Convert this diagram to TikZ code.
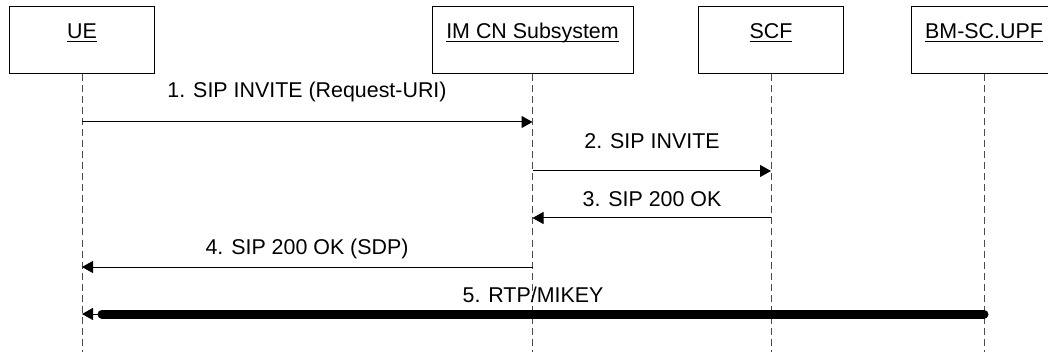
\documentclass[tikz,border=0pt]{standalone}
\usepackage{fontspec}
\setmainfont{Liberation Sans}
\usetikzlibrary{arrows.meta}
\newcommand\entity[1]{\underline{\smash{#1}}}
\begin{document}
\begin{tikzpicture}[x=0.5pt,y=-0.5pt,
    every node/.style={font=\fontsize{10.7}{13}\selectfont},
    party/.style={draw,line width=0.5pt,minimum width=72.5pt,minimum height=33.5pt,inner sep=0pt},
    lifeline/.style={draw=black!70,line width=0.5pt,dash pattern=on 3.5pt off 2pt},
    msg/.style={line width=0.5pt,-{Triangle[length=5.5pt,width=6pt]}},
    msgtext/.style={anchor=base,inner sep=0pt}]
        \useasboundingbox (0,0) rectangle (1048,352);
        \node[party] (ue) at (82,40.5) {\entity{UE}};
        \node[party,minimum width=100.5pt] (imcn) at (532.5,40.5) {\entity{IM CN Subsystem}};
        \node[party] (scf) at (771,40.5) {\entity{SCF}};
        \node[party] (bm) at (984,40.5) {\entity{BM-SC.UPF}};
        \foreach \p in {ue,imcn,scf,bm}
            \draw[lifeline] (\p.south) -- (\p.south |- 0,352);
        \draw[msg] (ue |- 0,122) -- (imcn |- 0,122);
        \node[msgtext] (m1) at (307,97.5) {1. SIP INVITE (Request-URI)};
        \draw[msg] (imcn |- 0,171) -- (scf |- 0,171);
        \node[msgtext] (m2) at (652,149) {2. SIP INVITE};
        \draw[msg] (scf |- 0,218) -- (imcn |- 0,218);
        \node[msgtext] (m3) at (652,206.5) {3. SIP 200 OK};
        \draw[msg] (imcn |- 0,267) -- (ue |- 0,267);
        \node[msgtext] (m4) at (307,255) {4. SIP 200 OK (SDP)};
        \coordinate (rtpend) at ([xshift=10pt]ue |- 0,314);
        \draw[line width=4.5pt,line cap=round] (bm |- 0,314) -- (rtpend);
        \draw[msg] (rtpend) -- (ue |- 0,314);
        \node[msgtext] (m5) at (533,302) {5. RTP/MIKEY};
\end{tikzpicture}
\end{document}
